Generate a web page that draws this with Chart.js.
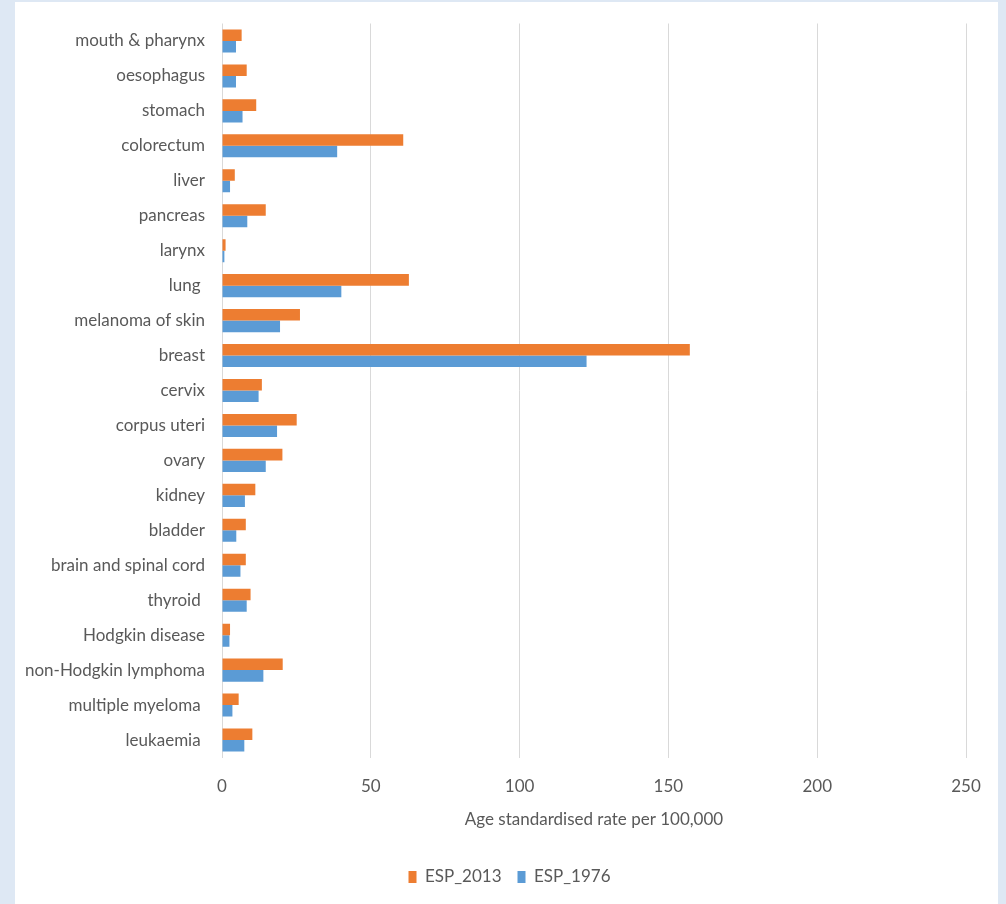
<!DOCTYPE html>
<html>
<head>
<meta charset="utf-8">
<script src="https://cdn.jsdelivr.net/npm/chart.js@4/dist/chart.umd.min.js"></script>
<style>
  html, body { margin: 0; padding: 0; background: #dee8f4; }
  body { width: 1006px; height: 904px; position: relative; overflow: hidden; }
  #panel { position: absolute; left: 15px; top: 2px; width: 983px; height: 902px; background: #ffffff; }
</style>
</head>
<body>
<div id="panel"><canvas id="chart" width="983" height="902"></canvas></div>
<script>
// Cancer sites (trailing spaces kept as in the original labels)
const sites = [
  'mouth & pharynx', 'oesophagus', 'stomach', 'colorectum', 'liver', 'pancreas',
  'larynx', 'lung ', 'melanoma of skin', 'breast', 'cervix', 'corpus uteri', 'ovary',
  'kidney', 'bladder', 'brain and spinal cord', 'thyroid ', 'Hodgkin disease',
  'non-Hodgkin lymphoma', 'multiple myeloma ', 'leukaemia '
];

// Age standardised rates per 100,000
const esp2013 = [6.6, 8.3, 11.5, 60.9, 4.3, 14.7, 1.2, 62.8, 26.2, 157.2, 13.4, 25.1, 20.3,
                 11.2, 8.0, 8.0, 9.6, 2.7, 20.4, 5.6, 10.2];
const esp1976 = [4.7, 4.7, 6.9, 38.7, 2.7, 8.5, 0.8, 40.1, 19.5, 122.5, 12.3, 18.5, 14.7,
                 7.7, 4.8, 6.2, 8.3, 2.5, 13.9, 3.5, 7.5];

const xTicks = [0, 50, 100, 150, 200, 250];
const axisTitle = 'Age standardised rate per 100,000';

const FONT = "'Lato', 'Liberation Sans', sans-serif";
const TEXT = '#595959';

// Nudge the legend so it sits centred under the whole figure
const legendNudge = {
  id: 'legendNudge',
  afterLayout(chart) {
    if (chart.legend) chart.legend.left += 38;
  }
};

new Chart(document.getElementById('chart'), {
  type: 'bar',
  data: {
    labels: sites,
    datasets: [
      { label: 'ESP_2013', data: esp2013, backgroundColor: '#ed7d31', borderWidth: 0 },
      { label: 'ESP_1976', data: esp1976, backgroundColor: '#5b9bd5', borderWidth: 0 }
    ]
  },
  plugins: [legendNudge],
  options: {
    indexAxis: 'y',
    responsive: false,
    animation: false,
    layout: { padding: { left: 0, right: 32, top: 21.5, bottom: 8.5 } },
    datasets: { bar: { barPercentage: 1.0, categoryPercentage: 0.66 } },
    scales: {
      x: {
        min: 0, max: 250,
        afterBuildTicks: (s) => { s.ticks = xTicks.map(v => ({ value: v })); },
        afterFit: (s) => { s.height = 95; s.paddingLeft = 0; s.paddingRight = 0; },
        grid: { color: '#d9d9d9', lineWidth: 1, drawTicks: false },
        border: { display: false },
        ticks: { color: TEXT, padding: 19, font: { family: FONT, size: 17 } },
        title: {
          display: true, text: axisTitle, color: TEXT,
          font: { family: FONT, size: 17 }, padding: { top: 0, bottom: 22.3 }
        }
      },
      y: {
        afterFit: (s) => { s.width = 207; s.paddingTop = 0; s.paddingBottom = 0; },
        grid: { display: false, drawTicks: false },
        border: { display: false },
        ticks: { color: TEXT, padding: 17, font: { family: FONT, size: 17 }, autoSkip: false }
      }
    },
    plugins: {
      legend: {
        position: 'bottom',
        labels: { boxWidth: 8, boxHeight: 12, padding: 16, color: TEXT, font: { family: FONT, size: 17 } }
      },
      tooltip: { enabled: false }
    }
  }
});
</script>
</body>
</html>
